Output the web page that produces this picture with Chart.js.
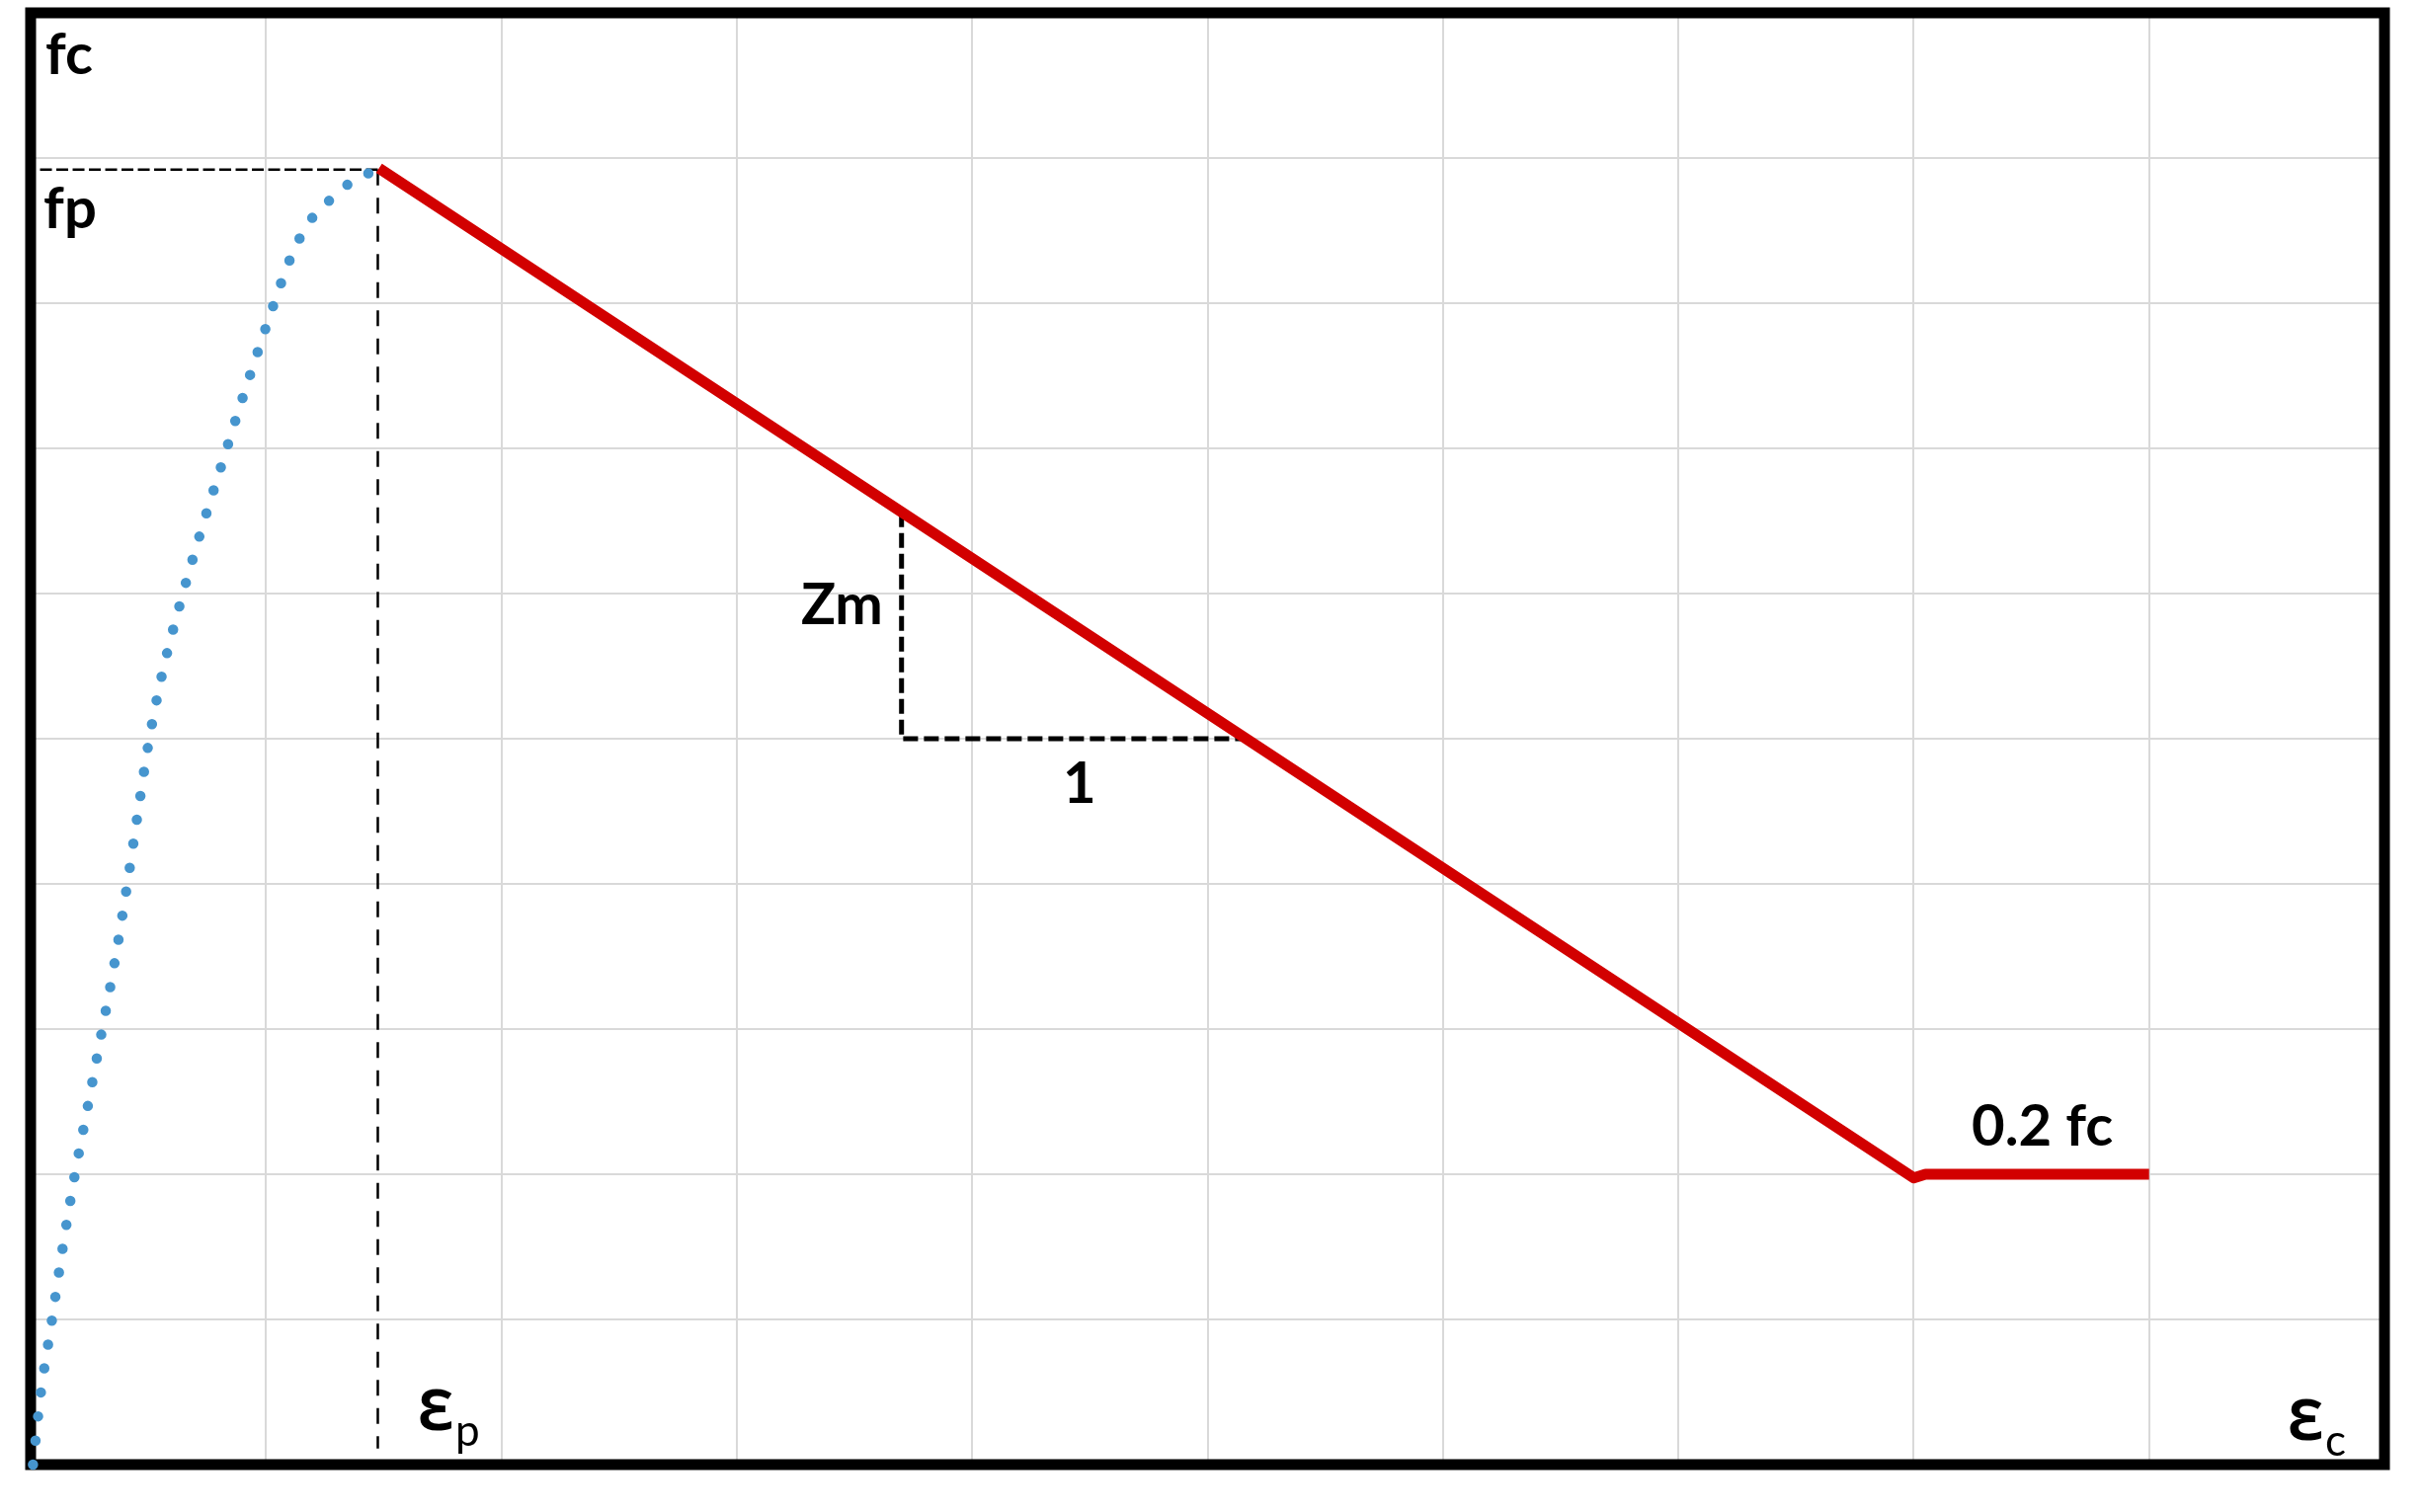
<!DOCTYPE html>
<html>
<head>
<meta charset="utf-8">
<script src="https://cdn.jsdelivr.net/npm/chart.js@4.4.1/dist/chart.umd.min.js"></script>
<style>
  html, body { margin: 0; padding: 0; background: #ffffff; }
  #stressStrain { display: block; }
</style>
</head>
<body>
<canvas id="stressStrain" width="2452" height="1531"></canvas>
<script>
// ascending branch (dotted blue)
const ascStrain = [0.01, 0.043, 0.090, 0.135, 0.186, 0.243, 0.301, 0.357, 0.407, 0.453, 0.499, 0.558, 0.635, 0.720, 0.814, 0.907, 1.003, 1.071, 1.109, 1.154, 1.212, 1.286, 1.366, 1.472];
const ascStress = [0, 0.49, 0.99, 1.48, 1.98, 2.47, 2.97, 3.46, 3.96, 4.46, 4.95, 5.44, 5.93, 6.41, 6.90, 7.38, 7.85, 8.17, 8.33, 8.48, 8.62, 8.73, 8.84, 8.92];

// softening branch (red) down to the 0.2 fc plateau
const softStrain = [1.48, 8.0, 8.05, 9.0];
const softStress = [8.93, 1.975, 2.0, 2.0];

// dashed guides
const peakHStrain = [0.04, 1.475];
const peakHStress = [8.92, 8.92];
const peakVStrain = [1.475, 1.475];
const peakVStress = [8.92, 0.11];
const slopeStrain = [3.70, 3.70, 5.16];
const slopeStress = [6.56, 5.0, 5.0];

// annotation texts and their anchors (data units)
const labelTexts = ["fc", "fp", "Zm", "1", "0.2 fc"];
const labelStrain = [0.063, 0.055, 3.273, 4.385, 8.246];
const labelStress = [9.58, 8.52, 5.79, 4.56, 2.20];

const symbolMain = ["\u0190", "\u0190"];
const symbolSub = ["p", "c"];
const symbolStrain = [1.645, 9.589];
const symbolStress = [0.238, 0.170];

const toPoints = (xs, ys) => xs.map((x, i) => ({ x: x, y: ys[i] }));

const BOLD = "bold 58px Lato, 'Noto Sans', sans-serif";

const frameAndLabels = {
  id: "frameAndLabels",
  beforeDatasetsDraw(chart) {
    const { ctx, chartArea } = chart;
    ctx.save();
    ctx.strokeStyle = "#000000";
    ctx.lineWidth = 11;
    ctx.lineJoin = "miter";
    ctx.strokeRect(chartArea.left, chartArea.top, chartArea.width, chartArea.height);
    ctx.restore();
  },
  afterDatasetsDraw(chart) {
    const { ctx } = chart;
    const xs = chart.scales.x;
    const ys = chart.scales.y;
    ctx.save();
    ctx.fillStyle = "#000000";
    ctx.textAlign = "left";
    ctx.textBaseline = "alphabetic";
    ctx.font = BOLD;
    labelTexts.forEach((t, i) => {
      ctx.fillText(t, xs.getPixelForValue(labelStrain[i]), ys.getPixelForValue(labelStress[i]));
    });
    symbolMain.forEach((t, i) => {
      const px = xs.getPixelForValue(symbolStrain[i]);
      const py = ys.getPixelForValue(symbolStress[i]);
      ctx.font = "bold 57px 'Noto Sans', Lato, sans-serif";
      ctx.fillText(t, px, py);
      const w = ctx.measureText(t).width;
      ctx.font = "44px Lato, 'Noto Sans', sans-serif";
      ctx.fillText(symbolSub[i], px + w + 1, py + 16);
    });
    ctx.restore();
  }
};

const ctx = document.getElementById("stressStrain").getContext("2d");

new Chart(ctx, {
  type: "line",
  data: {
    datasets: [
      {
        label: "slope",
        data: toPoints(slopeStrain, slopeStress),
        borderColor: "#000000",
        borderWidth: 5,
        borderDash: [15, 6],
        pointRadius: 0,
        tension: 0,
        order: 3
      },
      {
        label: "peak h",
        data: toPoints(peakHStrain, peakHStress),
        borderColor: "#000000",
        borderWidth: 2.5,
        borderDash: [12, 4.5],
        pointRadius: 0,
        order: 4
      },
      {
        label: "peak v",
        data: toPoints(peakVStrain, peakVStress),
        borderColor: "#000000",
        borderWidth: 2.5,
        borderDash: [16, 12.5],
        pointRadius: 0,
        order: 4
      },
      {
        label: "softening",
        data: toPoints(softStrain, softStress),
        borderColor: "#D20000",
        borderWidth: 11,
        borderJoinStyle: "round",
        pointRadius: 0,
        tension: 0,
        order: 1
      },
      {
        label: "ascending",
        data: toPoints(ascStrain, ascStress),
        borderColor: "#4695CE",
        borderWidth: 10.5,
        borderDash: [0, 24.5],
        borderCapStyle: "round",
        cubicInterpolationMode: "monotone",
        pointRadius: 0,
        clip: false,
        order: 2
      }
    ]
  },
  options: {
    responsive: false,
    devicePixelRatio: 1,
    animation: false,
    layout: {
      padding: { left: 31, right: 38, top: 13, bottom: 48 }
    },
    plugins: {
      legend: { display: false },
      tooltip: { enabled: false }
    },
    scales: {
      x: {
        type: "linear",
        min: 0,
        max: 10,
        ticks: { display: false, stepSize: 1 },
        grid: { color: "#d9d9d9", lineWidth: 2, drawTicks: false },
        border: { display: false }
      },
      y: {
        type: "linear",
        min: 0,
        max: 10,
        ticks: { display: false, stepSize: 1 },
        grid: { color: "#d9d9d9", lineWidth: 2, drawTicks: false },
        border: { display: false }
      }
    }
  },
  plugins: [frameAndLabels]
});
</script>
</body>
</html>
